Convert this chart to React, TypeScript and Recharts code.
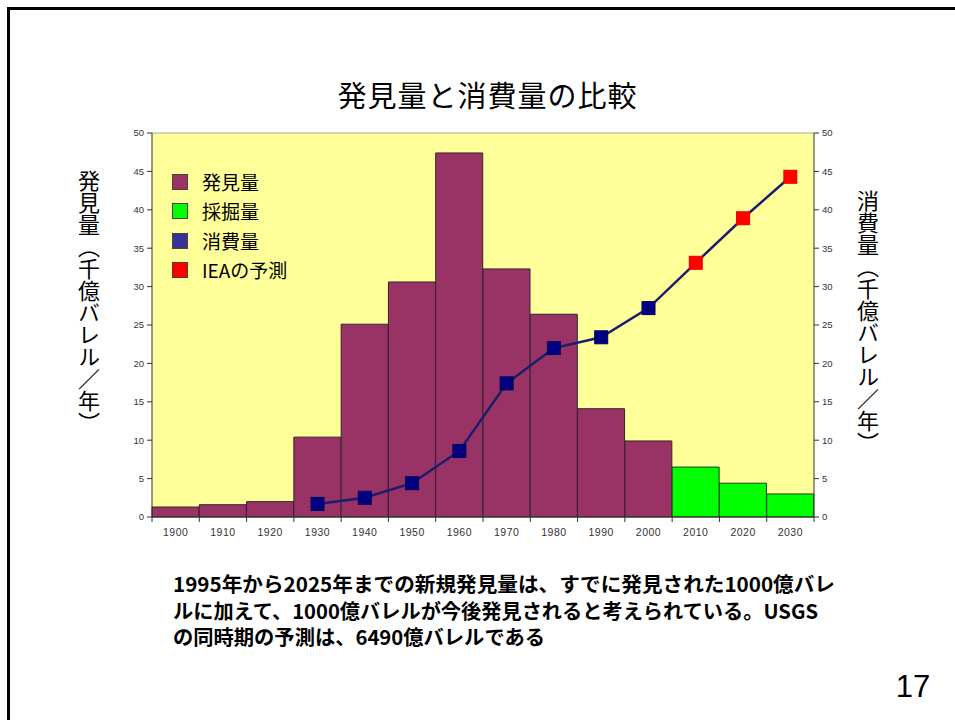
import React from 'react';
import {
  ComposedChart,
  Bar,
  Line,
  XAxis,
  YAxis,
  CartesianGrid,
  ReferenceLine,
  Legend,
} from 'recharts';

// Decades on the horizontal axis
const years = ['1900', '1910', '1920', '1930', '1940', '1950', '1960', '1970', '1980', '1990', '2000', '2010', '2020', '2030'];
// Oil discovered per decade (billion barrels / year, ×100 million)
const discovery = [1.3, 1.6, 2.0, 10.4, 25.1, 30.6, 47.4, 32.3, 26.4, 14.1, 9.9, null, null, null];
// Expected extraction of new finds
const production = [null, null, null, null, null, null, null, null, null, null, null, 6.5, 4.4, 3.0];
// Historical consumption
const consumption = [null, null, null, 1.7, 2.5, 4.4, 8.6, 17.4, 22.0, 23.4, 27.2, null, null, null];
// IEA forecast of consumption
const ieaForecast = [null, null, null, null, null, null, null, null, null, null, null, 33.1, 38.9, 44.3];
// Value axis ticks
const valueTicks = [0, 5, 10, 15, 20, 25, 30, 35, 40, 45, 50];

const legendNames = ['発見量', '採掘量', '消費量', 'IEAの予測'];
const legendColors = ['#993366', '#00ff00', '#333399', '#ff0000'];

const noteLines = [
  '1995年から2025年までの新規発見量は、すでに発見された1000億バレ',
  'ルに加えて、1000億バレルが今後発見されると考えられている。USGS',
  'の同時期の予測は、6490億バレルである',
];
const noteWidths = [662, 645, 372];

const rows = years.map((year, i) => ({
  year,
  discovery: discovery[i],
  production: production[i],
  forecast: ieaForecast[i],
  usage: consumption[i] ?? ieaForecast[i],
}));

const CJK = '"Noto Sans CJK JP", "Noto Sans", sans-serif';
const LATIN = '"Liberation Sans", Arial, sans-serif';

const XTick = (props: any) => {
  const { x, y, payload, index, visibleTicksCount, width } = props;
  const half = width / visibleTicksCount / 2;
  const axisY = y - 11;
  return (
    <g>
      <line x1={x - half} x2={x - half} y1={axisY} y2={axisY + 5} stroke="#333" strokeWidth={1} />
      {index === visibleTicksCount - 1 && (
        <line x1={x + half} x2={x + half} y1={axisY} y2={axisY + 5} stroke="#333" strokeWidth={1} />
      )}
      <text x={x} y={y} dy="0.72em" textAnchor="middle" fontSize={10.5} fill="#333" fontFamily={LATIN} letterSpacing={0.5}>
        {payload.value}
      </text>
    </g>
  );
};

const SquareDot = (props: any) => {
  const { cx, cy, payload } = props;
  if (cx == null || cy == null || payload.usage == null) return null;
  const isForecast = payload.forecast != null;
  return (
    <rect
      x={cx - 6.5}
      y={cy - 6.5}
      width={13}
      height={13}
      fill={isForecast ? '#ff0000' : '#000080'}
      stroke={isForecast ? '#ee0000' : '#000060'}
      strokeWidth={1}
    />
  );
};

const LegendBox = () => (
  <div style={{ fontFamily: CJK }}>
    {legendNames.map((name, i) => (
      <div key={name} style={{ display: 'flex', alignItems: 'center', height: 29.5 }}>
        <div
          style={{
            width: 14,
            height: 14,
            background: legendColors[i],
            border: '1px solid #5a3a3a',
            marginRight: 14,
          }}
        />
        <span style={{ fontSize: 19, color: '#000', lineHeight: '20px', whiteSpace: 'nowrap' }}>{name}</span>
      </div>
    ))}
  </div>
);

export default function App() {
  return (
    <div
      style={{
        position: 'absolute',
        left: 0,
        top: 0,
        width: 955,
        height: 720,
        overflow: 'hidden',
        background: '#fff',
      }}
    >
      <div
        style={{
          position: 'absolute',
          left: 7,
          top: 7,
          width: 960,
          height: 720,
          borderLeft: '3px solid #000',
          borderTop: '3px solid #000',
        }}
      />
      <div
        style={{
          position: 'absolute',
          left: 0,
          width: 975,
          top: 76,
          textAlign: 'center',
          fontFamily: CJK,
          fontSize: 29,
          letterSpacing: 1,
          color: '#000',
          lineHeight: '36px',
        }}
      >
        発見量と消費量の比較
      </div>

      <div style={{ position: 'absolute', left: 0, top: 0 }}>
        <ComposedChart
          width={955}
          height={720}
          data={rows}
          margin={{ top: 133, right: 101, bottom: 173, left: 112 }}
          barCategoryGap={0}
          barGap={0}
        >
          <CartesianGrid horizontal={false} vertical={false} fill="#ffff99" />
          <XAxis
            dataKey="year"
            height={30}
            tickLine={false}
            tickSize={5}
            tickMargin={6}
            axisLine={{ stroke: '#333' }}
            tick={<XTick />}
            interval={0}
          />
          <YAxis
            width={40}
            domain={[0, 50]}
            ticks={valueTicks}
            interval={0}
            tickSize={5}
            tickMargin={3}
            axisLine={{ stroke: '#333' }}
            tickLine={{ stroke: '#333' }}
            tick={{ fontSize: 9.5, fill: '#333', fontFamily: LATIN }}
          />
          <YAxis
            yAxisId="right"
            orientation="right"
            width={40}
            domain={[0, 50]}
            ticks={valueTicks}
            interval={0}
            tickSize={5}
            tickMargin={3}
            axisLine={{ stroke: '#333' }}
            tickLine={{ stroke: '#333' }}
            tick={{ fontSize: 9.5, fill: '#333', fontFamily: LATIN }}
          />
          <ReferenceLine y={50} stroke="#aaa" strokeWidth={1} />
          <Legend
            layout="vertical"
            align="center"
            verticalAlign="middle"
            wrapperStyle={{ left: 172, top: 167, width: 170, height: 120 }}
            content={<LegendBox />}
          />
          <Bar dataKey="discovery" name="発見量" stackId="s" fill="#993366" stroke="#3a2030" strokeWidth={1} isAnimationActive={false} />
          <Bar dataKey="production" name="採掘量" stackId="s" fill="#00ff00" stroke="#1f3a1f" strokeWidth={1} isAnimationActive={false} />
          <Line
            yAxisId="right"
            dataKey="usage"
            name="消費量"
            stroke="#1c1c6e"
            strokeWidth={2.5}
            dot={<SquareDot />}
            activeDot={false}
            connectNulls={false}
            isAnimationActive={false}
          />
        </ComposedChart>
      </div>

      <div
        style={{
          position: 'absolute',
          left: 77,
          top: 170,
          writingMode: 'vertical-rl',
          fontFamily: CJK,
          fontSize: 22,
          lineHeight: '24px',
          color: '#000',
        }}
      >
        発見量（千億バレル／年）
      </div>
      <div
        style={{
          position: 'absolute',
          left: 856,
          top: 190,
          writingMode: 'vertical-rl',
          fontFamily: CJK,
          fontSize: 22,
          lineHeight: '24px',
          color: '#000',
        }}
      >
        消費量（千億バレル／年）
      </div>

      <svg style={{ position: 'absolute', left: 0, top: 0 }} width={955} height={720}>
        {noteLines.map((line, i) => (
          <text
            key={i}
            x={173}
            y={592 + i * 26.5}
            textLength={noteWidths[i]}
            lengthAdjust="spacingAndGlyphs"
            fontFamily={CJK}
            fontWeight={700}
            fontSize={20}
            fill="#000"
          >
            {line}
          </text>
        ))}
        <text x={913} y={697} textAnchor="middle" fontFamily={LATIN} fontSize={31} fill="#000">
          17
        </text>
      </svg>
    </div>
  );
}
